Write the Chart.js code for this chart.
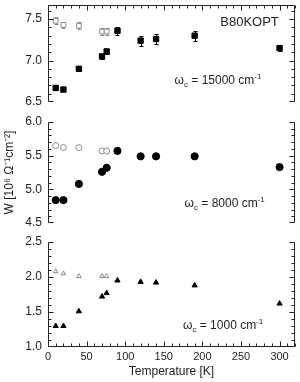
<!DOCTYPE html>
<html>
<head>
<meta charset="utf-8">
<script src="https://cdn.jsdelivr.net/npm/chart.js@4.4.1/dist/chart.umd.min.js"></script>
<style>
html, body { margin: 0; padding: 0; background: #fff; }
#wrap { position: relative; width: 300px; height: 382px; }
.panel { position: absolute; left: 0; width: 300px; }
</style>
</head>
<body>
<div id="wrap">
  <div class="panel" style="top:0;height:110px"><canvas id="c1"></canvas></div>
  <div class="panel" style="top:110px;height:120px"><canvas id="c2"></canvas></div>
  <div class="panel" style="top:230px;height:152px"><canvas id="c3"></canvas></div>
</div>
<script>
// temperatures (K)
const temps = [10, 20, 40, 70, 76, 90, 120, 140, 190, 300];
const tempsOpen = [10, 20, 40, 70, 76];

// W for omega_c = 15000 cm-1
const w15000 = [6.67, 6.65, 6.90, 7.05, 7.11, 7.36, 7.24, 7.26, 7.30, 7.15];
const w15000Err = [0.02, 0.02, 0.03, 0.03, 0.03, 0.05, 0.06, 0.06, 0.06, 0.03];
const w15000Open = [7.48, 7.43, 7.42, 7.35, 7.35];
const w15000OpenErr = [0.04, 0.04, 0.04, 0.04, 0.04];

// omega_c = 8000 cm-1
const w8000 = [4.84, 4.84, 5.08, 5.26, 5.32, 5.57, 5.49, 5.49, 5.49, 5.33];
const w8000Open = [5.65, 5.62, 5.62, 5.57, 5.57];

// omega_c = 1000 cm-1
const w1000 = [1.30, 1.30, 1.51, 1.72, 1.77, 1.95, 1.93, 1.92, 1.88, 1.62];
const w1000Open = [2.08, 2.05, 2.01, 2.01, 2.01];

// tick labels
const xTicks = [0, 50, 100, 150, 200, 250, 300];
const yTicksTop = [6.5, 7.0, 7.5];
const yTicksMid = [4.5, 5.0, 5.5, 6.0];
const yTicksBot = [1.0, 1.5, 2.0, 2.5];

const INK = '#222';
const GREY = '#8a8a8a';
const FONT = 'Liberation Sans, Arial, Helvetica, sans-serif';

function pts(xs, ys) {
  return xs.map((x, i) => ({ x: x, y: ys[i] }));
}

const errorBars = {
  id: 'errorBars',
  beforeDatasetsDraw(chart) {
    const ctx = chart.ctx;
    const y = chart.scales.y;
    chart.data.datasets.forEach((ds, i) => {
      if (!ds.errors) return;
      const meta = chart.getDatasetMeta(i);
      ctx.save();
      ctx.strokeStyle = ds.borderColor;
      ctx.lineWidth = 1;
      ctx.beginPath();
      meta.data.forEach((p, j) => {
        const v = ds.data[j].y, e = ds.errors[j];
        const px = Math.round(p.x) + 0.5;
        const y1 = Math.round(y.getPixelForValue(v + e)) + 0.5;
        const y2 = Math.round(y.getPixelForValue(v - e)) + 0.5;
        ctx.moveTo(px, y1); ctx.lineTo(px, y2);
        ctx.moveTo(px - 2, y1); ctx.lineTo(px + 2, y1);
        ctx.moveTo(px - 2, y2); ctx.lineTo(px + 2, y2);
      });
      ctx.stroke();
      ctx.restore();
    });
  }
};

// axis lines with inward ticks
const frame = {
  id: 'frame',
  afterDatasetsDraw(chart, args, opts) {
    const { ctx, chartArea: a } = chart;
    const x = chart.scales.x, y = chart.scales.y;
    const L = Math.round(a.left) + 0.5, R = Math.round(a.right) - 0.5;
    const T = Math.round(a.top) + 0.5, B = Math.round(a.bottom) - 0.5;
    ctx.save();
    ctx.strokeStyle = INK;
    ctx.lineWidth = 1;
    ctx.beginPath();
    ctx.moveTo(L, T); ctx.lineTo(L, B);
    ctx.moveTo(R, T); ctx.lineTo(R, B);
    if (opts.top) { ctx.moveTo(L, T); ctx.lineTo(R, T); }
    if (opts.bottom) { ctx.moveTo(L, B); ctx.lineTo(R, B); }

    const ny = Math.floor((y.max - y.min) / opts.yMinor + 1e-6);
    for (let i = 0; i <= ny; i++) {
      const v = y.min + i * opts.yMinor;
      const major = y.ticks.some(t => Math.abs(t.value - v) < 1e-6);
      const len = major ? 5 : 3;
      const py = Math.round(y.getPixelForValue(v)) + (i === 0 ? -0.5 : 0.5);
      ctx.moveTo(L, py); ctx.lineTo(L + len, py);
      ctx.moveTo(R, py); ctx.lineTo(R - len, py);
    }
    if (opts.top || opts.bottom) {
      const nx = Math.floor((x.max - x.min) / opts.xMinor + 1e-6);
      for (let i = 0; i <= nx; i++) {
        const v = x.min + i * opts.xMinor;
        const major = xTicks.includes(v);
        const len = major ? 5 : 3;
        const px = Math.round(x.getPixelForValue(v)) + 0.5;
        if (opts.top) { ctx.moveTo(px, T); ctx.lineTo(px, T + len); }
        if (opts.bottom) { ctx.moveTo(px, B); ctx.lineTo(px, B - len); }
      }
    }
    ctx.stroke();
    ctx.restore();
  }
};

// text labels inside panels, anchored in data coordinates
const notes = {
  id: 'notes',
  afterDraw(chart, args, opts) {
    const ctx = chart.ctx;
    const x = chart.scales.x, y = chart.scales.y;
    (opts.items || []).forEach(it => {
      ctx.save();
      ctx.fillStyle = INK;
      ctx.textBaseline = 'alphabetic';
      let total = 0;
      it.parts.forEach(p => { ctx.font = p[1] + 'px ' + FONT; total += ctx.measureText(p[0]).width; });
      let px = x.getPixelForValue(it.x);
      if (it.align === 'right') px -= total;
      const base = y.getPixelForValue(it.y) + 4;
      it.parts.forEach(p => {
        ctx.font = p[1] + 'px ' + FONT;
        ctx.fillText(p[0], px, base + p[2]);
        px += ctx.measureText(p[0]).width;
      });
      ctx.restore();
    });
  }
};

function omega(value) {
  return [['\u03c9', 12, 0], ['c', 8, 3], [' = ' + value + ' cm', 12, 0], ['-1', 8, -5]];
}

function makePanel(id, cfg) {
  const xScale = {
    type: 'linear',
    min: 0,
    max: 320,
    display: cfg.showX,
    afterBuildTicks: s => { s.ticks = xTicks.map(v => ({ value: v })); },
    grid: { display: false, drawTicks: false },
    border: { display: false },
    ticks: { padding: 3, color: INK, font: { family: FONT, size: 11 } },
    title: {
      display: cfg.showX,
      text: 'Temperature [K]',
      color: INK,
      font: { family: FONT, size: 12 },
      padding: { top: 0, bottom: 3 }
    }
  };
  if (cfg.showX) {
    xScale.afterFit = s => { s.height = 35; s.paddingLeft = 0; s.paddingRight = 0; };
  }
  return new Chart(document.getElementById(id), {
    type: 'scatter',
    data: { datasets: cfg.datasets },
    options: {
      responsive: true,
      maintainAspectRatio: false,
      animation: false,
      layout: { padding: { top: cfg.padTop, bottom: cfg.padBottom, left: 0, right: 5 } },
      plugins: {
        legend: { display: false },
        tooltip: { enabled: false },
        frame: { top: cfg.top, bottom: cfg.bottom, yMinor: 0.1, xMinor: 10 },
        notes: { items: cfg.notes }
      },
      scales: {
        x: xScale,
        y: {
          min: cfg.yMin,
          max: cfg.yMax,
          afterBuildTicks: s => { s.ticks = cfg.yTicks.map(v => ({ value: v })); },
          afterFit: s => { s.width = 48; s.paddingTop = 0; s.paddingBottom = 0; },
          grid: { display: false, drawTicks: false },
          border: { display: false },
          ticks: {
            padding: 6,
            color: INK,
            font: { family: FONT, size: 12 },
            callback: v => v.toFixed(1)
          },
          title: {
            display: !!cfg.yTitle,
            text: cfg.yTitle || '',
            color: INK,
            font: { family: FONT, size: 12 },
            padding: { top: 2, bottom: 0 }
          }
        }
      }
    },
    plugins: [errorBars, frame, notes]
  });
}

makePanel('c1', {
  padTop: 3, padBottom: 8, showX: false, top: true, bottom: false,
  yMin: 6.5, yMax: 7.67, yTicks: yTicksTop,
  datasets: [
    {
      data: pts(tempsOpen, w15000Open), errors: w15000OpenErr,
      pointStyle: 'rect', pointRadius: 3.4, borderColor: GREY, backgroundColor: '#fff', borderWidth: 1
    },
    {
      data: pts(temps, w15000), errors: w15000Err,
      pointStyle: 'rect', pointRadius: 3.8, borderColor: '#000', backgroundColor: '#000', borderWidth: 1
    }
  ],
  notes: [
    { x: 299, y: 7.47, align: 'right', parts: [['B80KOPT', 13, 0]] },
    { x: 164, y: 6.76, parts: omega('15000') }
  ]
});

makePanel('c2', {
  padTop: 12, padBottom: 7, showX: false, top: false, bottom: false,
  yMin: 4.5, yMax: 6.0, yTicks: yTicksMid,
  yTitle: 'W [10\u2076 \u03a9\u207b\u00b9cm\u207b\u00b2]',
  datasets: [
    {
      data: pts(tempsOpen, w8000Open),
      pointStyle: 'circle', pointRadius: 3, borderColor: GREY, backgroundColor: '#fff', borderWidth: 1
    },
    {
      data: pts(temps, w8000),
      pointStyle: 'circle', pointRadius: 3.6, borderColor: '#000', backgroundColor: '#000', borderWidth: 1
    }
  ],
  notes: [
    { x: 177, y: 4.80, parts: omega('8000') }
  ]
});

makePanel('c3', {
  padTop: 12, padBottom: 0, showX: true, top: false, bottom: true,
  yMin: 1.0, yMax: 2.5, yTicks: yTicksBot,
  datasets: [
    {
      data: pts(tempsOpen, w1000Open),
      pointStyle: 'triangle', pointRadius: 2.6, borderColor: GREY, backgroundColor: '#fff', borderWidth: 1
    },
    {
      data: pts(temps, w1000),
      pointStyle: 'triangle', pointRadius: 3, borderColor: '#000', backgroundColor: '#000', borderWidth: 1
    }
  ],
  notes: [
    { x: 175, y: 1.32, parts: omega('1000') }
  ]
});
</script>
</body>
</html>
